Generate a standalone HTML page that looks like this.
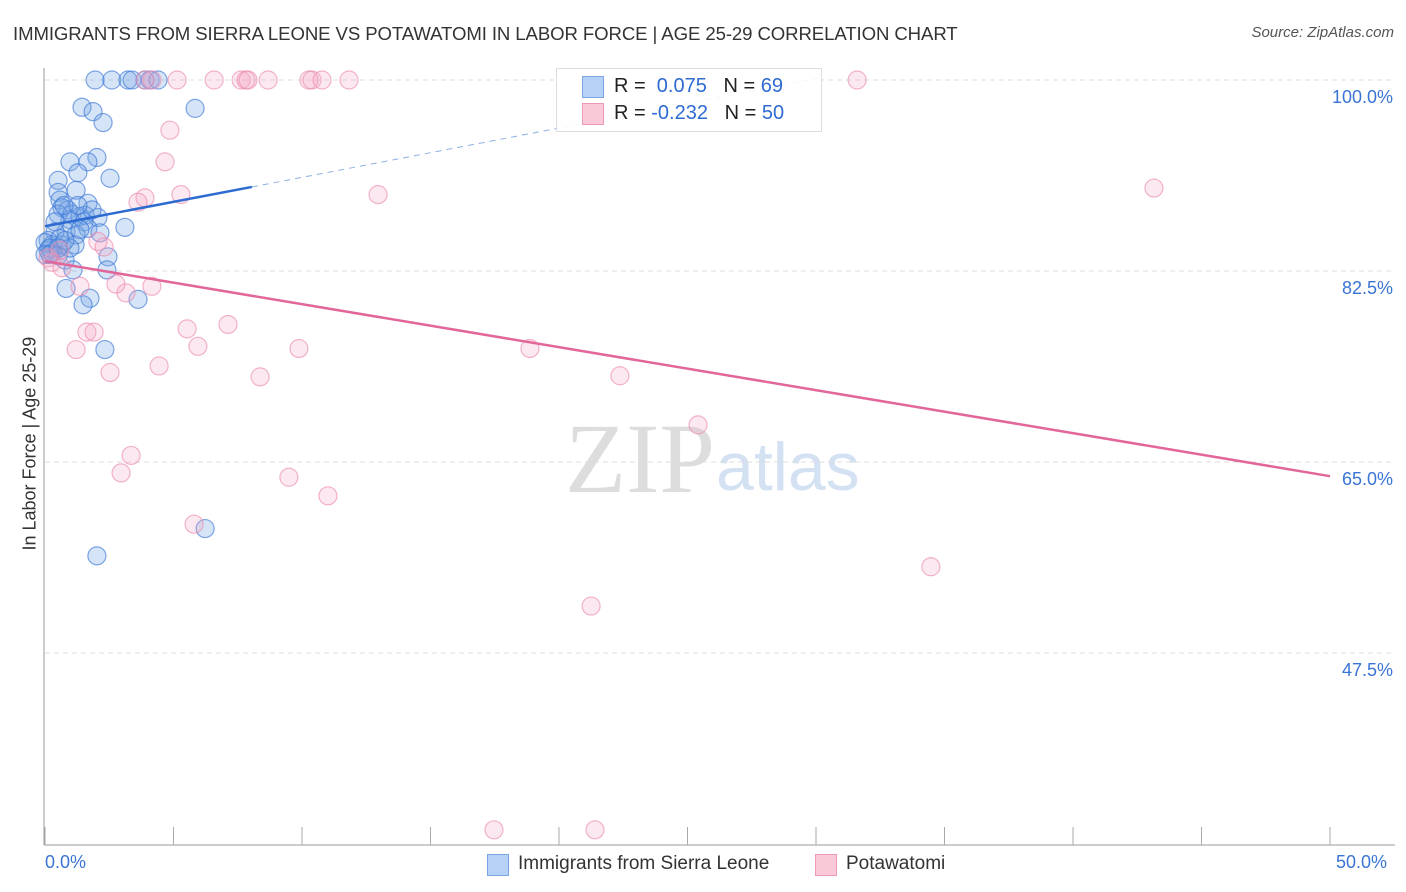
<!DOCTYPE html>
<html><head><meta charset="utf-8"><style>
body{margin:0;background:#fff;font-family:"Liberation Sans",sans-serif;}
#wrap{position:relative;width:1406px;height:892px;overflow:hidden}
.t{position:absolute;white-space:nowrap}
</style></head><body>
<div id="wrap">
<div class="t" style="left:13px;top:23px;font-size:18.6px;color:#333;letter-spacing:-0.1px">IMMIGRANTS FROM SIERRA LEONE VS POTAWATOMI IN LABOR FORCE | AGE 25-29 CORRELATION CHART</div>
<div class="t" style="right:12px;top:24px;font-size:15px;font-style:italic;color:#555">Source: ZipAtlas.com</div>
<svg id="plot" width="1406" height="892" style="position:absolute;left:0;top:0">
<text x="715" y="492" font-family="Liberation Serif" font-size="100" fill="#ddd" text-anchor="end">ZIP</text>
<text x="716" y="490" font-family="Liberation Sans" font-size="68" fill="#d3e1f3">atlas</text>
<g id="grid"></g><g id="marks"></g><g id="lines"></g>
</svg>
<div style="position:absolute;left:556px;top:68px;width:264px;height:62px;border:1px solid #ddd;background:rgba(255,255,255,0.9)">
<div style="position:absolute;left:25px;top:7px;width:20px;height:20px;background:#b6d1f5;border:1px solid #7aa6e6"></div>
<div class="t" style="left:57px;top:6px;font-size:20px;color:#222">R = <span style="color:#2d6bd1">&nbsp;0.075</span>&nbsp;&nbsp;&nbsp;N = <span style="color:#2d6bd1">69</span></div>
<div style="position:absolute;left:25px;top:34px;width:20px;height:20px;background:#f9c9d8;border:1px solid #ec9ab6"></div>
<div class="t" style="left:57px;top:33px;font-size:20px;color:#222">R = <span style="color:#2d6bd1">-0.232</span>&nbsp;&nbsp;&nbsp;N = <span style="color:#2d6bd1">50</span></div>
</div>
<div>
<div style="position:absolute;left:487px;top:854px;width:20px;height:20px;background:#b6d1f5;border:1px solid #7aa6e6"></div>
<div class="t" style="left:518px;top:853px;font-size:19px;color:#333">Immigrants from Sierra Leone</div>
<div style="position:absolute;left:815px;top:854px;width:20px;height:20px;background:#f9c9d8;border:1px solid #ec9ab6"></div>
<div class="t" style="left:846px;top:853px;font-size:19px;color:#333">Potawatomi</div>
</div>
<div class="t" style="left:-65px;top:445px;font-size:18px;color:#333;transform:rotate(-90deg);transform-origin:center;width:190px;text-align:center">In Labor Force | Age 25-29</div>
<div class="t" style="left:45px;top:852px;font-size:18px;color:#3a74d4">0.0%</div>
<div class="t" style="left:1336px;top:852px;font-size:18px;color:#3a74d4">50.0%</div>
</div>
<script>
const yTicks=[100,82.5,65,47.5];
const yTickLabels=["100.0%","82.5%","65.0%","47.5%"];
const xTicks=[0,5,10,15,20,25,30,35,40,45,50];
const blueX=[1.95,2.6,3.23,3.39,3.89,4.09,4.4,1.44,1.87,2.26,5.84,0.97,2.02,1.67,1.28,2.53,0.51,0.51,1.21,0.58,1.67,0.66,0.89,0.51,1.05,1.36,1.56,2.06,0.97,1.52,1.67,3.11,0.82,1.21,0.39,0.12,0.27,0.66,1.17,0.12,0.27,0.51,0.78,2.45,1.09,2.41,0.82,1.75,1.48,3.62,2.33,6.23,2.02,0,0.19,0.97,0.58,0.39,1.36,2.14,0,0.19,0.51,0.78,1.83,1.28,0.74];
const blueY=[100,100,100,100,100,100,100,97.5,97.1,96.1,97.4,92.5,92.9,92.5,91.5,91.0,90.8,89.7,89.9,89.0,88.7,88.3,88.1,87.7,87.7,87.5,87.6,87.4,87.2,87.0,86.4,86.5,86.1,85.8,86.1,85.3,84.9,84.9,84.9,84.4,84.2,83.9,83.5,83.8,82.6,82.6,80.9,80.0,79.4,79.9,75.3,58.9,56.4,85.1,84.6,84.6,85.5,87.0,86.3,86.0,84.0,84.0,84.6,85.3,88.1,88.5,88.5];
const pinkX=[3.89,4.16,5.14,6.58,7.63,7.82,7.9,8.68,10.27,10.39,10.78,11.83,31.6,4.86,4.67,3.89,3.62,5.29,12.96,43.15,2.06,2.3,0.58,0.27,0.66,1.36,2.76,3.15,4.16,1.63,1.91,1.21,5.53,7.12,5.95,9.88,18.87,2.53,4.44,8.37,22.37,25.41,3.35,2.96,9.49,11.01,5.8,34.47,21.25,17.47,21.4,0.12];
const pinkY=[100,100,100,100,100,100,100,100,100,100,100,100,100,95.4,92.5,89.2,88.8,89.5,89.5,90.1,85.2,84.7,84.4,83.3,82.8,81.1,81.3,80.5,81.1,76.9,76.9,75.3,77.2,77.6,75.6,75.4,75.4,73.2,73.8,72.8,72.9,68.4,65.6,64.0,63.6,61.9,59.3,55.4,51.8,31.3,31.3,83.7];
const blueTrend=[[0,86.6],[8.05,90.2],[30.2,100.2]];
const pinkTrend=[[0,83.4],[50,63.7]];
const X=v=>45+v*25.7, Y=v=>80+(100-v)*10.914;
const NS="http://www.w3.org/2000/svg";
function mk(tag,at,parent){const e=document.createElementNS(NS,tag);for(const k in at)e.setAttribute(k,at[k]);document.getElementById(parent).appendChild(e);return e;}
yTicks.forEach((t,i)=>{
 const l=mk('line',{x1:45,x2:1395,y1:Y(t),y2:Y(t),stroke:'#ddd','stroke-dasharray':'5,4'},'grid');
 
 
 const tx=mk('text',{x:1393,y:Y(t)+23,'text-anchor':'end','font-size':18,fill:'#3a74d4','font-family':'Liberation Sans'},'grid');
 tx.textContent=yTickLabels[i];
 
 
});
const ax=mk('line',{x1:44,x2:44,y1:68,y2:845,stroke:'#999'},'grid');


const bx=mk('line',{x1:44,x2:1395,y1:845,y2:845,stroke:'#999'},'grid');


xTicks.forEach(t=>{
 const l=mk('line',{x1:X(t),x2:X(t),y1:827,y2:845,stroke:'#aaa'},'grid');
 
 
});
blueX.forEach((v,i)=>{
 const c=mk('circle',{cx:X(v),cy:Y(blueY[i]),r:9,fill:'rgba(120,165,230,0.3)',stroke:'rgba(60,120,215,0.65)','stroke-width':1.2},'marks');
 
 
});
pinkX.forEach((v,i)=>{
 const c=mk('circle',{cx:X(v),cy:Y(pinkY[i]),r:9,fill:'rgba(245,165,195,0.25)',stroke:'rgba(235,140,175,0.65)','stroke-width':1.2},'marks');
 
 
});
const b1=mk('line',{x1:X(blueTrend[0][0]),y1:Y(blueTrend[0][1]),x2:X(blueTrend[1][0]),y2:Y(blueTrend[1][1]),stroke:'#2d6bd1','stroke-width':2.5},'lines');


const b2=mk('line',{x1:X(blueTrend[1][0]),y1:Y(blueTrend[1][1]),x2:X(blueTrend[2][0]),y2:Y(blueTrend[2][1]),stroke:'#8fb0e3','stroke-width':1,'stroke-dasharray':'6,5'},'lines');


const p1=mk('line',{x1:X(pinkTrend[0][0]),y1:Y(pinkTrend[0][1]),x2:X(pinkTrend[1][0]),y2:Y(pinkTrend[1][1]),stroke:'#e2669a','stroke-width':2.5},'lines');


</script>
</body></html>
